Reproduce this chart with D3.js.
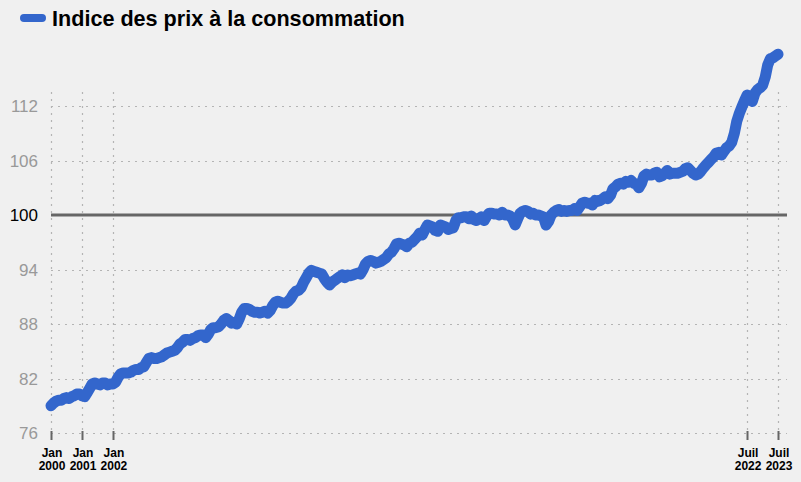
<!DOCTYPE html>
<html>
<head>
<meta charset="utf-8">
<script src="https://cdn.jsdelivr.net/npm/d3@7"></script>
<style>
  html, body { margin: 0; padding: 0; background: #f0f0f0; }
  svg { display: block; }
</style>
</head>
<body>
<svg id="chart" width="801" height="482"></svg>
<script>
// ---- Data (monthly, Jan 2000 -> Jul 2023) ----
const title = "Indice des prix à la consommation";
const startYear = 2000;
const y2000 = [79.0, 79.3, 79.5, 79.6, 79.6, 79.8, 79.9, 79.8, 80.0, 80.1, 80.3, 80.3];
const y2001 = [80.1, 80.0, 80.4, 80.9, 81.4, 81.5, 81.4, 81.3, 81.5, 81.5, 81.3, 81.4];
const y2002 = [81.4, 81.6, 82.1, 82.5, 82.6, 82.6, 82.6, 82.7, 82.9, 83.0, 83.0, 83.2];
const y2003 = [83.3, 83.8, 84.2, 84.3, 84.2, 84.2, 84.3, 84.4, 84.6, 84.8, 84.9, 85.0];
const y2004 = [85.1, 85.4, 85.8, 86.0, 86.3, 86.3, 86.2, 86.4, 86.5, 86.7, 86.8, 86.8];
const y2005 = [86.5, 86.9, 87.4, 87.6, 87.6, 87.7, 88.0, 88.4, 88.6, 88.4, 88.1, 88.2];
const y2006 = [88.0, 88.6, 89.3, 89.7, 89.7, 89.6, 89.4, 89.3, 89.3, 89.2, 89.3, 89.4];
const y2007 = [89.2, 89.5, 90.0, 90.4, 90.5, 90.4, 90.3, 90.3, 90.5, 90.8, 91.3, 91.6];
const y2008 = [91.7, 92.0, 92.6, 93.1, 93.6, 93.9, 93.8, 93.7, 93.6, 93.5, 93.0, 92.6];
const y2009 = [92.3, 92.6, 92.8, 93.0, 93.2, 93.4, 93.1, 93.4, 93.3, 93.4, 93.5, 93.6];
const y2010 = [93.5, 94.0, 94.6, 94.9, 95.0, 94.9, 94.7, 94.8, 94.9, 95.1, 95.3, 95.7];
const y2011 = [95.9, 96.3, 96.8, 96.9, 96.8, 96.7, 96.5, 96.9, 97.0, 97.3, 97.6, 98.0];
const y2012 = [97.8, 98.4, 98.9, 98.8, 98.7, 98.3, 98.2, 98.9, 98.8, 98.7, 98.4, 98.5];
const y2013 = [98.6, 99.4, 99.7, 99.7, 99.8, 99.8, 99.6, 99.9, 99.5, 99.4, 99.6, 99.8];
const y2014 = [99.4, 99.9, 100.2, 100.2, 100.1, 100.1, 100.0, 100.3, 100.0, 100.0, 99.9, 99.6];
const y2015 = [98.9, 99.6, 100.2, 100.4, 100.5, 100.4, 100.1, 100.2, 100.0, 100.0, 99.9, 99.8];
const y2016 = [98.9, 99.3, 100.0, 100.3, 100.5, 100.6, 100.4, 100.5, 100.4, 100.5, 100.5, 100.7];
const y2017 = [100.5, 100.9, 101.3, 101.4, 101.3, 101.3, 101.1, 101.6, 101.5, 101.6, 101.8, 102.0];
const y2018 = [101.8, 102.2, 102.9, 103.1, 103.4, 103.5, 103.4, 103.7, 103.6, 103.8, 103.5, 103.4];
const y2019 = [103.0, 103.5, 104.3, 104.5, 104.4, 104.4, 104.6, 104.7, 104.2, 104.3, 104.6, 104.9];
const y2020 = [104.5, 104.6, 104.6, 104.6, 104.7, 104.8, 105.1, 105.2, 104.9, 104.6, 104.4, 104.5];
const y2021 = [104.8, 105.2, 105.5, 105.8, 106.1, 106.4, 106.8, 106.9, 106.6, 107.0, 107.4, 107.6];
const y2022 = [108.0, 109.0, 110.3, 111.2, 111.9, 112.6, 113.2, 113.0, 112.5, 113.4, 113.8, 114.0];
const y2023 = [114.3, 115.2, 116.5, 117.2, 117.3, 117.5, 117.7];

const yearly = [y2000, y2001, y2002, y2003, y2004, y2005, y2006, y2007, y2008, y2009,
  y2010, y2011, y2012, y2013, y2014, y2015, y2016, y2017, y2018, y2019,
  y2020, y2021, y2022, y2023];

const yTicks = [76, 82, 88, 94, 100, 106, 112];
const xTicks = [
  { date: new Date(2000, 0, 1), line1: "Jan", line2: "2000" },
  { date: new Date(2001, 0, 1), line1: "Jan", line2: "2001" },
  { date: new Date(2002, 0, 1), line1: "Jan", line2: "2002" },
  { date: new Date(2022, 6, 1), line1: "Juil", line2: "2022" },
  { date: new Date(2023, 6, 1), line1: "Juil", line2: "2023" }
];

const data = [];
yearly.forEach((arr, yi) => arr.forEach((v, m) => data.push({ date: new Date(startYear + yi, m, 1), value: v })));

// ---- Layout ----
const svg = d3.select("#chart");
const plotLeft = 51, plotRight = 787, plotTop = 92, plotBottom = 433;

const x = d3.scaleTime()
  .domain([new Date(2000, 0, 1), new Date(2023, 6, 1)])
  .range([51, 778]);
const y = d3.scaleLinear().domain([76, 112]).range([433, 106]);

svg.append("rect").attr("width", 801).attr("height", 482).attr("fill", "#f0f0f0");

// horizontal gridlines
svg.append("g").selectAll("line").data(yTicks.filter(t => t !== 100)).join("line")
  .attr("x1", plotLeft).attr("x2", plotRight)
  .attr("y1", d => Math.round(y(d)) + 0.5).attr("y2", d => Math.round(y(d)) + 0.5)
  .attr("stroke", "#b4b4b4").attr("stroke-width", 1.2).attr("stroke-dasharray", "2,5");

// vertical gridlines
svg.append("g").selectAll("line").data(xTicks).join("line")
  .attr("x1", d => Math.round(x(d.date)) + 0.5).attr("x2", d => Math.round(x(d.date)) + 0.5)
  .attr("y1", plotTop).attr("y2", plotBottom)
  .attr("stroke", "#b4b4b4").attr("stroke-width", 1.2).attr("stroke-dasharray", "2,5");

// baseline 100
svg.append("line")
  .attr("x1", plotLeft).attr("x2", plotRight)
  .attr("y1", y(100)).attr("y2", y(100))
  .attr("stroke", "#666").attr("stroke-width", 3);

// y labels
svg.append("g").selectAll("text").data(yTicks).join("text")
  .attr("x", 38).attr("y", d => y(d))
  .attr("dy", "0.36em")
  .attr("text-anchor", "end")
  .attr("font-family", "Arial, 'Liberation Sans', sans-serif")
  .attr("font-size", 17)
  .attr("fill", d => d === 100 ? "#000" : "#999")
  .text(d => d);

// x ticks
svg.append("g").selectAll("line").data(xTicks).join("line")
  .attr("x1", d => Math.round(x(d.date)) + 0.5).attr("x2", d => Math.round(x(d.date)) + 0.5)
  .attr("y1", 431).attr("y2", 440)
  .attr("stroke", "#666").attr("stroke-width", 2);

const xl = svg.append("g").selectAll("text").data(xTicks).join("text")
  .attr("text-anchor", "middle")
  .attr("font-family", "Arial, 'Liberation Sans', sans-serif")
  .attr("font-size", 12)
  .attr("font-weight", "bold")
  .attr("fill", "#000");
xl.append("tspan").attr("x", d => x(d.date) + 1).attr("y", 457).text(d => d.line1);
xl.append("tspan").attr("x", d => x(d.date) + 1).attr("y", 470).text(d => d.line2);

// series line
const line = d3.line().x(d => x(d.date)).y(d => y(d.value)).curve(d3.curveLinear);
svg.append("path").datum(data)
  .attr("d", line)
  .attr("fill", "none")
  .attr("stroke", "#3366cc")
  .attr("stroke-width", 11)
  .attr("stroke-linejoin", "round")
  .attr("stroke-linecap", "round");

// legend
svg.append("line")
  .attr("x1", 24).attr("x2", 42).attr("y1", 18).attr("y2", 18)
  .attr("stroke", "#3366cc").attr("stroke-width", 8).attr("stroke-linecap", "round");
svg.append("text")
  .attr("x", 52).attr("y", 26)
  .attr("font-family", "Arial, 'Liberation Sans', sans-serif")
  .attr("font-size", 21.6)
  .attr("font-weight", "bold")
  .attr("fill", "#000")
  .text(title);
</script>
</body>
</html>
